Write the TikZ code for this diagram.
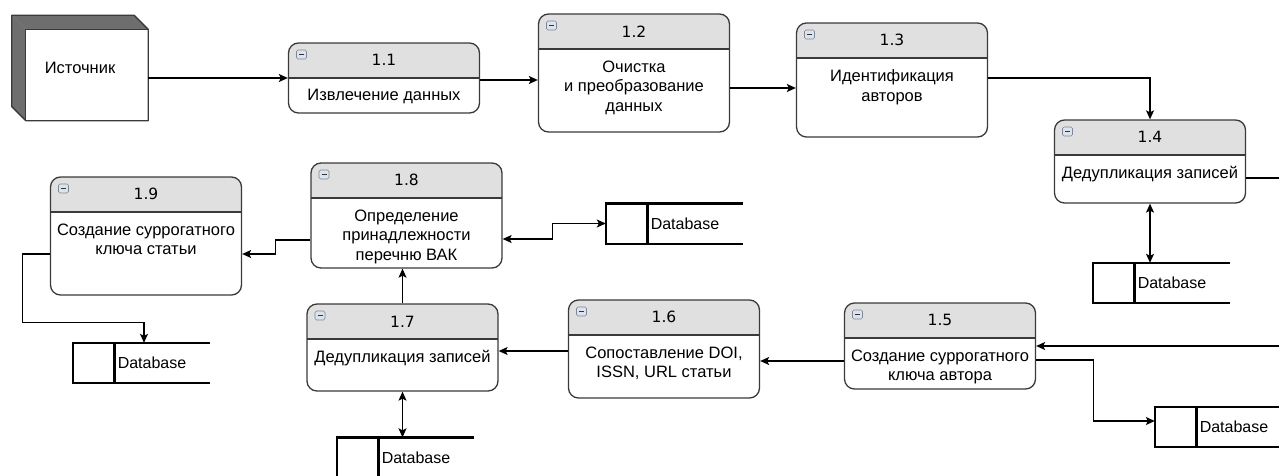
\documentclass[tikz,border=0pt]{standalone}
\usepackage{fontspec}
\setmainfont{Liberation Sans}
\newfontfamily\numfont{DejaVu Sans}
\usetikzlibrary{arrows.meta,positioning}

\definecolor{headgray}{HTML}{E0E0E0}
\definecolor{edgegray}{HTML}{3A3A3A}
\definecolor{sidegray}{HTML}{6E6E6E}
\definecolor{iconfill}{HTML}{DCE3EC}
\definecolor{iconedge}{HTML}{7D8796}

\tikzstyle{proc} = [rectangle, draw=edgegray, line width=1.3pt, rounded corners=10pt,
		minimum width=191pt, fill=white,
		path picture={
			\fill[headgray, sharp corners] (path picture bounding box.north west) rectangle ([yshift=-35pt]path picture bounding box.north east);
			\draw[edgegray, sharp corners, line width=1.3pt] ([yshift=-35pt]path picture bounding box.north west) -- ([yshift=-35pt]path picture bounding box.north east);
			\draw[iconedge, fill=iconfill, line width=0.6pt, rounded corners=1.5pt] ([xshift=8pt,yshift=-7pt]path picture bounding box.north west) rectangle ++(10pt,-9pt);
			\draw[black!80, sharp corners, line width=1pt] ([xshift=10.5pt,yshift=-11.5pt]path picture bounding box.north west) -- ++(5pt,0pt);
		}]
\tikzstyle{head} = [inner sep=0pt, font=\numfont\fontsize{15.5}{18}\selectfont]
\tikzstyle{body} = [inner sep=0pt, align=center, anchor=north, font=\fontsize{16.5}{19.7}\selectfont]
\tikzstyle{store} = [minimum width=95.5pt, minimum height=40pt, text width=89pt, inner xsep=3pt,
		align=left, font=\fontsize{16}{19}\selectfont]
\tikzstyle{dbline} = [draw, line width=2.4pt, black]
\tikzstyle{line} = [draw, line width=1.2pt, -{Stealth[length=9pt,width=8pt,inset=2pt]}]
\tikzstyle{dline} = [draw, line width=1.2pt, {Stealth[length=9pt,width=8pt,inset=2pt]}-{Stealth[length=9pt,width=8pt,inset=2pt]}]

\begin{document}
\begin{tikzpicture}[x=1pt, y=-1pt]
		\useasboundingbox (0,0) rectangle (1279,476);
		
		%Source
		\node [minimum width=136pt, minimum height=105pt, inner sep=0pt, font=\fontsize{16.5}{19.7}\selectfont] (src) at (80,68) {Источник};
		\fill[sidegray] (src.north west) -- ([xshift=-14pt]src.north east) -- ([yshift=-14pt]src.north east) -- ([xshift=14pt,yshift=-14pt]src.north west) -- cycle;
		\fill[sidegray] (src.north west) -- ([xshift=14pt,yshift=-14pt]src.north west) -- ([xshift=14pt]src.south west) -- ([yshift=14pt]src.south west) -- cycle;
		\draw[edgegray, line width=1.3pt, line join=round] (src.north west) -- ([xshift=-14pt]src.north east) -- ([yshift=-14pt]src.north east) -- (src.south east) -- ([xshift=14pt]src.south west) -- ([yshift=14pt]src.south west) -- cycle;
		\draw[edgegray, line width=1.3pt] ([xshift=14pt,yshift=-14pt]src.north west) rectangle (src.south east);
		
		%processes
		\node [proc, minimum height=70pt] (P1_1) at (384,78) {};
		\node [head] (H1_1) at ([yshift=-18pt]P1_1.north) {1.1};
		\node [body] (B1_1) at ([yshift=-47pt]P1_1.north) {Извлечение данных};
		
		\node [proc, minimum height=118pt] (P1_2) at (634,73) {};
		\node [head] (H1_2) at ([yshift=-18pt]P1_2.north) {1.2};
		\node [body] (B1_2) at ([yshift=-47pt]P1_2.north) {Очистка\\и преобразование\\данных};
		
		\node [proc, minimum height=114pt] (P1_3) at (892,80) {};
		\node [head] (H1_3) at ([yshift=-18pt]P1_3.north) {1.3};
		\node [body] (B1_3) at ([yshift=-47pt]P1_3.north) {Идентификация\\авторов};
		
		\node [proc, minimum height=83pt] (P1_4) at (1150,161.5) {};
		\node [head] (H1_4) at ([yshift=-18pt]P1_4.north) {1.4};
		\node [body] (B1_4) at ([yshift=-47pt]P1_4.north) {Дедупликация записей};
		
		\node [proc, minimum height=86pt] (P1_5) at (940,346) {};
		\node [head] (H1_5) at ([yshift=-18pt]P1_5.north) {1.5};
		\node [body] (B1_5) at ([yshift=-47pt]P1_5.north) {Создание суррогатного\\ключа автора};
		
		\node [proc, minimum height=98pt] (P1_6) at (664,349) {};
		\node [head] (H1_6) at ([yshift=-18pt]P1_6.north) {1.6};
		\node [body] (B1_6) at ([yshift=-47pt]P1_6.north) {Сопоставление DOI,\\ISSN, URL статьи};
		
		\node [proc, minimum height=87pt] (P1_7) at (402.5,347.5) {};
		\node [head] (H1_7) at ([yshift=-18pt]P1_7.north) {1.7};
		\node [body] (B1_7) at ([yshift=-47pt]P1_7.north) {Дедупликация записей};
		
		\node [proc, minimum height=105pt] (P1_8) at (406.5,215.5) {};
		\node [head] (H1_8) at ([yshift=-18pt]P1_8.north) {1.8};
		\node [body] (B1_8) at ([yshift=-47pt]P1_8.north) {Определение\\принадлежности\\перечню ВАК};
		
		\node [proc, minimum height=118pt] (P1_9) at (146,236) {};
		\node [head] (H1_9) at ([yshift=-18pt]P1_9.north) {1.9};
		\node [body] (B1_9) at ([yshift=-47pt]P1_9.north) {Создание суррогатного\\ключа статьи};
		
		%data stores
		\node [store] (D1_4) at (1182.25,283) {Database};
		\node [store] (D1_5) at (1244.25,427) {Database};
		\node [store] (D1_7) at (426.25,457.5) {Database};
		\node [store] (D1_8) at (695.25,223.5) {Database};
		\node [store] (D1_9) at (162.25,363) {Database};
		\foreach \db in {D1_4,D1_5,D1_7,D1_8,D1_9}{
			\draw[dbline] (\db.north east) -- ([xshift=-41.5pt]\db.north west) -- ([xshift=-41.5pt]\db.south west) -- (\db.south east);
			\draw[dbline] (\db.north west) -- (\db.south west);
		}
		
		%arrows
		\coordinate (edge) at (1300,0);
		\draw[line] (src.east |- P1_1.west) -- (P1_1.west);
		\draw[line] ([yshift=-2pt]P1_1.east) -- ([yshift=-2pt]P1_1.east -| P1_2.west);
		\draw[line] ([yshift=-8pt]P1_3.west -| P1_2.east) -- ([yshift=-8pt]P1_3.west);
		\draw[line] ([yshift=2pt]P1_3.east) -| (P1_4.north);
		\draw[dline] (P1_4.south) -- (P1_4.south |- D1_4.north);
		\draw[line] ([yshift=-16.5pt]P1_4.east) -| (edge |- P1_5.east) -- (P1_5.east);
		\draw[line] ([yshift=-15pt]P1_5.west) -- ([yshift=-15pt]P1_5.west -| P1_6.east);
		\draw[line] ([yshift=-14pt]P1_5.east) -| ([xshift=-102.5pt,yshift=6pt]D1_5.west) -- ([xshift=-41.5pt,yshift=6pt]D1_5.west);
		\draw[line] ([yshift=-2pt]P1_6.west) -- ([yshift=-2pt]P1_6.west -| P1_7.east);
		\draw[dline] (P1_7.south) -- (P1_7.south |- D1_7.north);
		\draw[line] (P1_7.north) -- (P1_7.north |- P1_8.south);
		\draw[dline] ([yshift=-23.5pt]P1_8.east) -| ([xshift=-94.5pt]D1_8.west) -- ([xshift=-41.5pt]D1_8.west);
		\draw[line] ([yshift=-24.5pt]P1_8.west) -| ([xshift=33pt,yshift=-18pt]P1_9.east) -- ([yshift=-18pt]P1_9.east);
		\draw[line] ([yshift=-18pt]P1_9.west) -- ++(-27pt,0pt) |- ([xshift=-2pt,yshift=20pt]D1_9.north -| P1_9.south) -- ([xshift=-2pt]D1_9.north -| P1_9.south);
		
\end{tikzpicture}
\end{document}
